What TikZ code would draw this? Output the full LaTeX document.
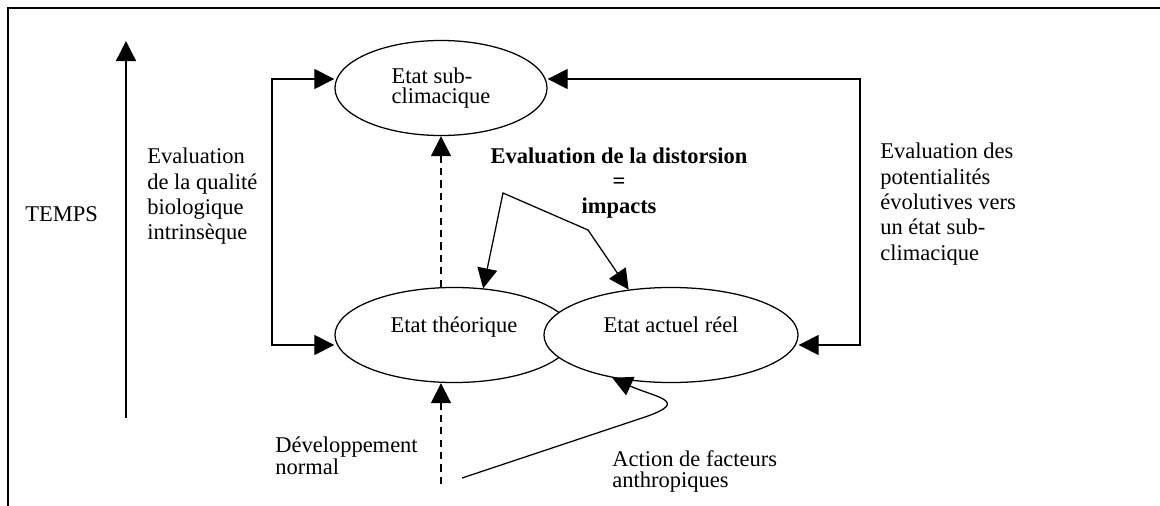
\documentclass[tikz,border=0pt]{standalone}
\usepackage{fontspec}
\setmainfont{Liberation Serif}
\usetikzlibrary{shapes.geometric, arrows.meta, positioning}

\begin{document}
\begin{tikzpicture}[x=0.025cm, y=-0.025cm,
        etat/.style={ellipse, draw, fill=white, line width=0.9pt, inner sep=0pt,
                     minimum height=2.375cm, font=\fontsize{16}{14.5}\selectfont},
        fleche/.style={-{Triangle[length=0.5cm,width=0.5cm]}, line width=0.9pt},
        bifleche/.style={{Triangle[length=0.5cm,width=0.5cm]}-{Triangle[length=0.5cm,width=0.5cm]}, line width=0.9pt},
        pointille/.style={fleche, dash pattern=on 0.18cm off 0.13cm},
        texte/.style={align=left, inner sep=0pt, anchor=north west, font=\fontsize{16}{18}\selectfont}
    ]
    \useasboundingbox (0,0) rectangle (1160,506);
    % cadre
    \draw[line width=2.1pt] (8,506) -- (8,8) -- (1160,8);
    % les trois etats
    \node[etat, minimum width=5.3cm, align=left] (sub) at (441,88) {Etat sub-\\climacique};
    \node[etat, minimum width=5.95cm, text depth=0.5cm] (theo) at (454,335) {Etat théorique};
    \node[etat, minimum width=6.35cm, text depth=0.5cm] (reel) at (671,335) {Etat actuel réel};
    % textes
    \node[texte] (temps) at (25,206) {TEMPS};
    \node[texte] (qualite) at (147,148) {Evaluation\\de la qualité\\biologique\\intrinsèque};
    \node[texte] (potentiel) at (880,143) {Evaluation des\\potentialités\\évolutives vers\\un état sub-\\climacique};
    \node[texte, align=center, anchor=north, font=\fontsize{16}{17.5}\selectfont\bfseries] (distorsion) at (619,148)
        {Evaluation de la distorsion\\=\\impacts};
    \node[texte, font=\fontsize{16}{15.6}\selectfont] (dev) at (275,437) {Développement\\normal};
    \node[texte, font=\fontsize{16}{15}\selectfont] (action) at (612,450) {Action de facteurs\\anthropiques};

    % axe du temps
    \coordinate (t0) at (126,418);
    \coordinate (t1) at (126,41);
    \draw[fleche] (t0) -- (t1);
    % boucle gauche
    \coordinate (gh) at (272,79);
    \coordinate (gb) at (272,345);
    \draw[bifleche] (sub.west |- gh) -- (gh) -- (gb) -- (theo.west |- gb);
    % boucle droite
    \coordinate (dh) at (860,79);
    \coordinate (db) at (860,345);
    \draw[bifleche] (sub.east |- dh) -- (dh) -- (db) -- (reel.east |- db);
    % developpement normal
    \draw[pointille] (sub.south |- theo.north) -- (sub.south);
    \coordinate (dev0) at (441,484);
    \draw[pointille] (dev0) -- (dev0 |- theo.south);
    % distorsion
    \coordinate (imp) at (503,193);
    \coordinate (coude) at (588,230);
    \draw[bifleche] (theo.58) -- (imp) -- (coude) -- (reel.133);
    % action anthropique
    \coordinate (anth) at (462,478);
    \coordinate (virage) at (645,417);
    \draw[fleche] (anth) -- (virage) .. controls (692,401) and (654,397) .. (reel.216);
\end{tikzpicture}
\end{document}
